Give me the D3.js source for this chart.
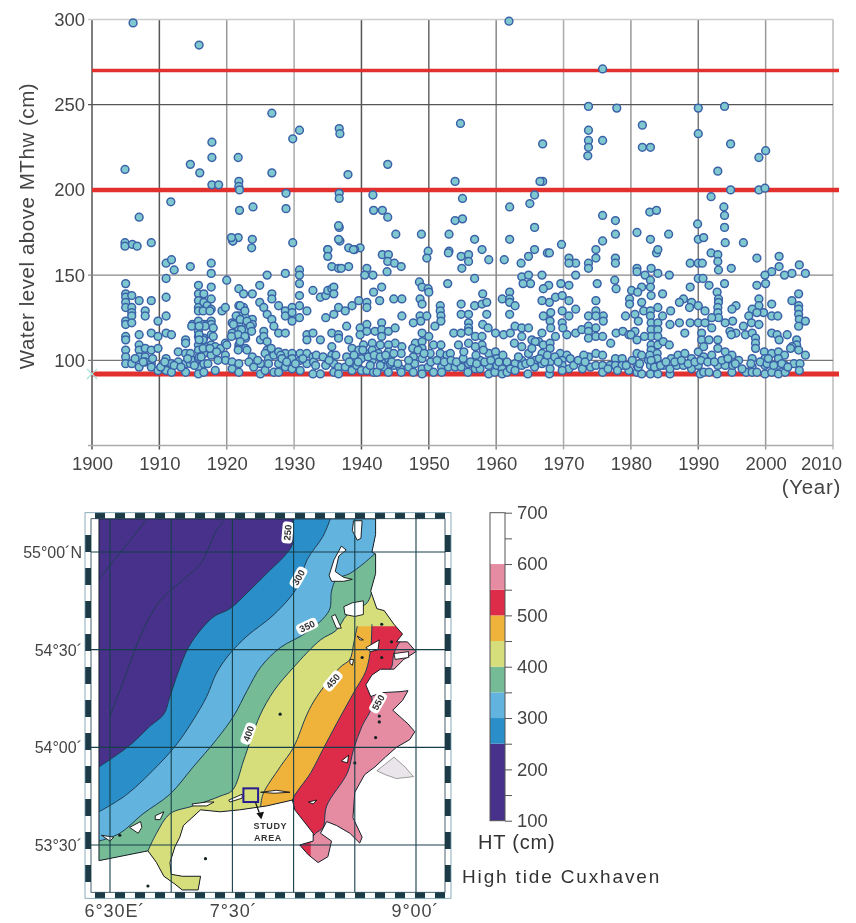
<!DOCTYPE html>
<html>
<head>
<meta charset="utf-8">
<style>
  html, body { margin: 0; background: #fff; }
  svg { display: block; font-family: "Liberation Sans", Arial, sans-serif; filter: blur(0.45px); }
</style>
<script src="https://cdn.jsdelivr.net/npm/d3@7"></script>
</head>
<body>
<div id="chart"></div>
<script>
// storm surge crests: [year, cm above MThw]
const crests1904to1937 = [
  [1906.1,298],[1915.9,285],[1904.9,212],[1917.8,228],[1917.8,219],[1914.6,215],[1916,210],[1917.8,203],[1918.8,203],
  [1921.7,219],[1921.8,205],[1921.8,202],[1921.9,200],[1921.9,188],[1923.9,190],[1926.7,245],[1926.7,210],[1928.8,198],
  [1928.8,189],[1929.8,230],[1930.8,235],[1936.7,236],[1936.8,233],[1936.7,198],[1936.7,195],[1907,184],[1911.7,193],
  [1904.9,169],[1904.9,167],[1906,168],[1906.7,167],[1908.8,169],[1920.9,170],[1921.7,172],[1923.8,171],[1923.7,166],
  [1929.8,169],[1936.7,178],[1936.8,170],[1935,165],
  [1905,145],[1905,139],[1905,137],[1905,134],[1905,131],[1905,123],[1905,121],[1905,114],[1905,112],[1905,106],[1905,102],[1905,98],
  [1905.9,138],[1905.9,131],[1905.9,128],[1905.9,126],[1905.9,122],[1905.9,98],
  [1907,135],[1907,115],[1907,109],[1907,106],[1907,102],[1907,96],
  [1907.9,129],[1907.9,126],[1907.9,107],[1907.9,102],[1907.9,99],
  [1908.8,135],[1908.8,116],[1908.8,106],[1908.8,98],[1908.8,96],
  [1909.8,123],[1909.8,114],[1909.8,107],[1909.8,94],
  [1911,157],[1911,148],[1911,137],[1911,126],[1911,116],[1911,101],[1911,98],[1911,94],
  [1911.8,159],[1911.8,115],[1911.8,98],[1911.8,93],[1912.2,153],[1912.8,105],[1912.8,99],
  [1913.9,112],[1913.9,110],[1913.9,104],[1913.9,98],[1913.9,93],[1914.6,155],[1914.6,104],[1914.6,98],[1914.9,121],[1914.9,100],
  [1915.8,144],[1915.8,139],[1915.8,135],[1915.8,131],[1915.8,129],[1915.8,123],[1915.8,117],[1915.8,114],[1915.8,109],[1915.8,106],[1915.8,101],[1915.8,96],[1915.8,92],
  [1916.6,139],[1916.6,134],[1916.6,121],[1916.6,113],[1916.6,104],[1916.6,98],[1916.6,93],
  [1917.1,132],[1917.1,121],[1917.1,108],
  [1917.7,157],[1917.7,151],[1917.7,143],[1917.7,136],[1917.7,130],[1917.7,123],[1917.7,121],[1917.7,115],[1917.7,109],[1917.7,103],
  [1918.3,108],[1918.3,94],[1919.1,107],[1919.3,129],[1919.8,131],[1919.8,110],[1919.8,103],[1919.8,100],[1920,147],
  [1920.8,122],[1920.8,116],[1920.8,99],[1920.8,95],
  [1921.8,142],[1921.8,132],[1921.8,126],[1921.8,121],[1921.8,118],[1921.8,114],[1921.8,109],[1921.8,107],[1921.8,98],[1921.8,93],
  [1920.9,170],[1920.7,172],[1922.5,139],[1922.5,131],[1922.8,125],[1922.8,118],[1922.8,113],[1922.8,107],
  [1923.8,139],[1923.8,124],[1923.8,121],[1923.8,102],[1924.9,144],[1924.9,134],[1925,112],[1925,98],[1925,92],
  [1925.5,131],[1925.5,117],[1925.5,114],[1926,150],[1926,127],[1926,111],[1926,106],[1925.7,104],[1925.7,94],
  [1926.7,139],[1926.7,136],[1926.7,124],[1927,120],[1926.2,101],[1926.2,98],[1927,103],[1927,93],
  [1927.7,132],[1927.7,116],[1927.7,105],[1927.7,98],[1927.7,93],
  [1928.7,151],[1928.7,129],[1928.7,126],[1928.7,116],[1928.7,104],[1928.7,96],
  [1929.7,131],[1929.7,128],[1929.7,123],[1929.7,104],[1929.7,101],[1929.7,95],
  [1930.8,153],[1930.8,150],[1930.8,145],[1930.8,138],[1930.8,132],[1930.8,125],
  [1930.9,104],[1930.9,100],[1930.9,94],[1931.9,129],[1931.9,115],[1931.9,112],[1931.9,104],[1931.9,98],
  [1932.8,141],[1932.8,116],[1932.8,102],[1932.8,92],[1932.9,99],[1933.9,137],[1933.9,112],[1933.9,92],
  [1934.7,138],[1934.7,125],[1934.7,97],[1935,165],[1935,161],[1935,141],
  [1935.6,155],[1935.6,142],[1935.6,116],[1935.6,108],[1935.6,103],[1935.9,143],[1935.9,139],[1935.9,127],[1935.9,98],[1935.9,93],
  [1936.6,179],[1936.6,171],[1936.6,154],[1936.6,131],[1936.6,115],[1936.6,113],[1936.6,96],[1936.6,92],
  [1922,132],[1922.7,129],[1921.4,126],[1921,121],[1922,124],[1923,123],[1923.5,120],[1922.2,118],[1921.7,115],[1922.7,114],[1923.7,117],
  [1922,111],[1921.7,106],[1923,106],[1920.7,114],[1920,109],[1916.5,129],[1917.5,129],[1916.8,120],[1918,119],[1916.5,112],[1918,114],
  [1916.5,107],[1917.5,107],[1918.5,105],[1915.9,102],[1914.8,120],[1915.9,120],[1915.9,115],[1915.9,112]
];

const crests1937to1974 = [
  [1938,209],[1943.9,215],[1941.7,197],[1941.8,188],[1943.1,188],[1943.9,184],[1945.1,174],[1948.9,174],[1938.1,166],[1939.8,166],[1939,165],
  [1954.7,239],[1966.9,227],[1961.9,299],[1973.7,249],[1953.9,205],[1955,195],[1953.9,182],[1955,183],[1953,174],[1956.8,171],
  [1957.9,165],[1953,164],[1962,190],[1962,171],[1965,192],[1965.7,197],[1965.7,178],[1966.9,205],[1966.5,205],[1969.7,168],
  [1965.7,165],[1967.6,163],
  [1938.8,165],[1949.9,164],[1949.7,160],[1952.9,163],[1954.8,161],[1955.9,162],[1955.9,158],[1954.9,154],[1958.9,159],[1961.2,159],
  [1963.7,157],[1964.8,161],[1967.9,163],[1970.8,160],[1971.8,157],[1970.8,157],[1973.7,157],[1973.7,154],[1943.1,162],[1944,162],
  [1943.9,158],[1944.9,157],[1945.9,155],[1940.8,154],[1940.5,150],[1941.7,150],[1943.8,152],[1938.1,155],[1937,154],
  [1948.6,146],[1949,143],[1949.9,142],[1950,140],[1952.8,145],[1956.8,148],[1943,143],[1941.8,140],[1942.7,135],[1944.8,136],[1946,136],
  [1939.6,135],[1940.8,134],[1940.8,131],[1938.6,132],[1937.6,129],[1946,126],[1948.7,136],[1949,133],[1951.7,132],[1951.7,129],
  [1951.8,126],[1951.8,123],[1950.9,120],[1948.7,126],[1949.7,126],[1948.8,123],[1947.7,122],[1954.8,133],[1954.8,127],[1955.9,127],
  [1955.9,122],[1955.9,119],[1956.8,132],[1957.9,133],[1958,139],[1958.6,134],[1958.6,127],[1958,121],[1958.8,119],[1959.9,116],
  [1960.9,136],[1962,140],[1962,136],[1962,134],[1962.8,132],[1962,127],[1963.8,149],[1964.8,150],[1964,145],[1965.1,145],
  [1966.8,150],[1967.8,144],[1967,142],[1969.6,145],[1970.8,144],[1971.8,150],[1971.8,130],[1970.8,135],[1968.8,137],[1969.8,138],
  [1967.9,134],[1966.8,135],[1967,126],[1968.1,128],[1968,123],[1968.1,119],[1969.8,129],[1970.8,126],[1969.8,122],[1969.9,119],
  [1968.8,114],[1970.5,115],[1971.8,116],[1972.7,118],[1973.7,126],[1973.7,120],[1973.7,117],[1973.7,113],
  [1937.8,120],[1938.1,112],[1939.8,119],[1939.8,115],[1940.8,121],[1940.8,117],[1942,117],[1943,122],[1943,118],[1943,114],[1944,117],[1945,119],
  [1953.7,116],[1954.8,116],[1955.9,117],[1956.9,114],[1957.9,114],[1957.9,109],[1954.4,109],[1955.9,110],[1956.9,108],
  [1961.1,115],[1962.1,116],[1962.8,120],[1963.8,119],[1963.8,114],[1964.8,119],[1962.7,110],[1963.8,108],[1965.3,112],[1966.3,111],
  [1966.8,116],[1967,109],[1968,110],[1968,107],[1940.3,109],[1941.6,110],[1942.8,109],[1945,110],[1946,108],[1945.9,104],[1944,109],[1944,105],
  [1948,110],[1949,116],[1949,111],[1949,107],[1950,114],[1950.7,109],[1951.8,109],[1950.2,104],[1951.7,104],[1952.7,103],[1947.7,102],[1949,101],
  [1938.6,107],[1939.6,106],[1940.6,104],[1941.6,106],[1942.5,104],[1939.1,100],[1937.8,102],[1940,101],[1941.6,100],[1943,100],[1944,101],
  [1958.9,104],[1959.9,105],[1960.1,101],[1957.6,100],[1958.1,106],[1961.6,99],[1962.8,98],[1963.8,100],[1964.8,104],[1965.8,100],[1966.8,104],
  [1968,99],[1969.5,104],[1970.5,103],[1969.8,100],[1972.7,99],[1973.7,102],[1965.8,111],[1965.3,107],
  [1937.6,96],[1938.6,94],[1939.3,97],[1940,94],[1940.8,94],[1941.8,93],[1942.3,93],[1943.3,96],[1944,93],[1944.8,97],[1945.8,95],[1945.9,93],
  [1947,96],[1947.7,93],[1947.9,98],[1949,95],[1949,92],[1949.9,96],[1950.7,93],[1951.9,96],[1951.9,93],[1952.9,96],[1953.9,96],[1954.8,96],
  [1955.9,98],[1955.8,93],[1956.9,95],[1957.6,95],[1958.9,92],[1958.9,97],[1959.8,93],[1960.1,97],[1960.9,95],[1960.9,92],[1961.6,93],[1962.1,95],
  [1962.8,94],[1964.7,92],[1963.8,97],[1965.7,96],[1966.8,98],[1967.9,92],[1968,95],[1969.8,97],[1970.8,95],[1972.8,95],[1974,96],[1969.8,94]
];

const crests1974to2006 = [
  [1977.9,248],[1973.7,235],[1973.7,229],[1973.7,225],[1973.6,220],[1975.8,229],[1975.8,271],[1981.7,238],[1981.7,225],[1982.9,225],
  [1990,248],[1993.9,249],[1990,233],[1994.8,227],[1999,219],[2000,223],[1992.9,211],[1994.8,200],[1999,200],[1999.9,201],[1991.9,196],
  [1993.8,190],[1993.9,185],[1993.9,178],[1989.9,180],[1990,171],[1990.8,172],[1994,169],[1996.7,169],[1975.8,185],[1977.7,182],[1977.7,174],
  [1975.8,170],[1974.8,165],[1980.9,175],[1982.8,187],[1983.8,188],[1982.9,171],[1985.6,174],[1983.8,163],
  [1974.8,160],[1977.7,160],[1977.7,157],[1984,165],[1991.9,163],[1992.9,162],[1992.9,158],[1993,153],[1994.9,154],[1998.7,160],[2002,161],
  [2002,155],[2000.9,152],[1999.9,150],[2005,156],[2005.9,151],[2003.9,151],[2002.8,150],[1980.9,154],[1980.9,152],[1983,154],[1984,151],
  [1982.1,150],[1985.7,150],[1988.8,157],[1990,157],[1990.6,157],[1990,148],[1990.7,148],[1991.6,144],[1993.9,145],[1992.8,140],[1993,136],
  [1993,134],[1992.9,131],[1992.9,128],[1993,125],[1995.6,132],[1995,130],[1995.1,123],[1994,122],[1982.9,147],[1982.9,143],[1981.6,143],
  [1980.1,141],[1981,140],[1983,138],[1979.8,136],[1979.8,133],[1984.7,139],[1988.8,143],[1987.8,136],[1987.2,134],[1981.6,134],[1984,131],
  [1985.9,129],[1989,134],[1988.7,131],[1990,132],[1991,129],[1998.7,144],[2000,145],[1999,136],[1999,132],[1998,130],[2000.9,133],[2003.9,135],
  [2004.9,139],[2004.9,132],[2004.9,130],[2004.9,127],[2005,124],[2005.9,123],[2004.9,120],[1999.7,128],[1998.7,128],[2000.9,126],[2001.8,126],
  [1997.5,126],[1997.9,122],[1999,121],[1996.7,120],[1975,145],[1977.6,147],[1977.8,142],[1974.8,135],[1974.8,129],[1975.9,126],[1974.8,126],
  [1975.9,123],[1974.8,119],[1974.8,114],[1979.2,126],[1980.6,127],[1981.1,123],[1977.8,116],[1978.8,117],[1975.8,114],[1977,110],[1979.7,115],
  [1980.6,117],[1980,115],[1981.9,129],[1982.9,129],[1982.9,126],[1984.7,126],[1985.8,121],[1987.2,122],[1988.8,122],[1988,116],[1990,122],
  [1991,122],[1992,125],[1992,119],[1990.5,116],[1990.5,112],[1991.6,112],[1992.9,112],[1992.9,107],[1995.6,116],[1994.7,117],[1994.9,115],
  [1997,115],[1998,116],[1998.5,113],[1998.5,110],[1998.5,107],[2000.9,116],[2001.7,115],[2003.2,115],[2002,112],[2004.6,112],[2004.6,109],
  [2003.9,108],[2004.9,106],[2003.7,107],[2005.9,103],[1983,122],[1983,118],[1983,114],[1983,109],[1984,122],[1984,118],[1984,114],[1984,109],
  [1982,114],[1980.9,112],[1984.8,111],[1985.7,109],[1983,106],[1983.9,104],[1974.8,104],[1975.8,103],[1977.7,101],[1978.7,101],[1980.9,104],
  [1981.6,103],[1982.6,100],[1983.9,101],[1986,101],[1987,103],[1988,104],[1989,101],[1990,105],[1990.8,108],[1990.8,102],[1992,103],[1994,105],
  [1995,103],[1996,100],[1998,101],[1999.8,105],[2000.9,104],[2001.9,105],[2002.8,103],[2001.9,101],[1999.9,101],[2004.2,98],[2005.1,98],
  [1974.8,97],[1975.8,97],[1975.8,93],[1976.9,97],[1977.7,97],[1978.7,97],[1979.7,94],[1980.9,97],[1980.9,93],[1981.6,92],[1982.9,92],[1982.9,97],
  [1984,92],[1984.8,97],[1985.8,92],[1985.8,95],[1986.8,97],[1987.8,97],[1989,95],[1990,97],[1990.3,92],[1990.8,93],[1991.6,93],[1992.8,92],
  [1992.9,97],[1994,97],[1995,93],[1995.1,97],[1997.1,93],[1998,96],[1998,93],[1998.7,93],[1999.9,97],[1999.9,92],[2000.9,93],[2001.9,92],
  [2001.9,97],[2002.9,93],[2002.9,97],[2005,94]
];

// the crowded band just above the lower threshold
const crestsLowBand = [
  [1906.4,101],[1907.6,99],[1909,101],[1910.2,96],[1910.8,99],[1912.2,97],[1913.2,96],[1914.2,101],[1915.2,97],[1916.2,102],[1917.2,98],[1918.7,100],
  [1923.3,99],[1924,96],[1924.6,100],[1926.6,107],[1928,103],[1928.2,101],[1928.9,99],[1930.2,98],[1931.3,101],[1933.2,97],[1933.3,103],[1934.3,102],
  [1935.2,100],[1936.2,103],[1938.2,99],[1938.9,103],[1939.5,99],[1940.2,106],[1941,102],[1941.3,97],[1941.9,103],[1942.8,102],[1942.8,97],[1943.6,103],
  [1944.3,98],[1944.5,99],[1944.8,104],[1945.4,98],[1947,100],[1947.6,107],[1948.4,106],[1949.3,104],[1950.3,99],[1951.2,100],[1952.3,99],[1953.2,104],
  [1953.3,100],[1954.1,99],[1955.1,101],[1955.2,105],[1956.2,99],[1957,103],[1957.1,98],[1958.3,99],[1959.2,100],[1960.4,99],[1961,103],[1963.3,102],
  [1964.4,98],[1965.1,99],[1966.4,101],[1967.2,99],[1967.6,103],[1968.7,102],[1969.2,99],[1971,101],[1971.5,97],[1972.2,100],[1973,103],[1973.2,99],
  [1976.6,95],[1978,94],[1979.3,97],[1980.2,100],[1981.1,96],[1981.3,98],[1982.8,103],[1983,100],[1983.5,96],[1984.4,97],[1985.2,99],[1986.5,99],
  [1987.5,100],[1988.5,98],[1989.5,99],[1990.4,100],[1991.4,99],[1992.4,99],[1993.5,100],[1994.4,101],[1995.5,98],[1996.5,95],[1997.8,98],[1999.2,99],
  [2000.2,98],[2000.4,101],[2001.2,97],[2002.4,98],[2003.3,96]
];

const levelTicks = [50, 100, 150, 200, 250, 300];
const yearTicks = d3.range(1900, 2011, 10);
const thresholdLevels = [92, 200, 270];
const thresholdWeights = [5, 4.5, 3.5];

// how dark each gridline prints in the figure
const yearGridShade = { 1900: "#555", 1910: "#555", 1920: "#999", 1930: "#aaa", 1940: "#555", 1950: "#666", 1960: "#888", 1970: "#aaa", 1980: "#999", 1990: "#777", 2000: "#999", 2010: "#bbb" };
const levelGridShade = { 50: "#aaa", 100: "#777", 150: "#888", 250: "#555", 300: "#ccc" };

// co-tidal chart, all lon/lat in degrees
const lonGrid = [6.5, 7, 7.5, 8, 8.5, 9];
const latGrid = [53.5, 54, 54.5, 55];
const lonLabels = [[6.54, "6°30E´"], [7.51, "7°30´"], [8.995, "9°00´"]];
const latLabels = [[55, "55°00´N"], [54.5, "54°30´"], [54, "54°00´"], [53.5, "53°30´"]];

const seaOutline = [
  [6.41,55.17],[8.67,55.17],[8.67,55.09],[8.64,55.0],[8.67,54.99],[8.67,54.89],[8.63,54.8],[8.68,54.71],[8.74,54.7],[8.82,54.63],[8.89,54.58],
  [8.84,54.54],[8.93,54.54],[9.0,54.49],[8.9,54.45],[8.82,54.4],[8.71,54.4],[8.64,54.37],[8.59,54.32],[8.63,54.26],[8.72,54.28],[8.87,54.285],
  [8.935,54.29],[8.89,54.24],[8.81,54.19],[8.935,54.12],[8.99,54.08],[8.95,54.04],[8.84,54],[8.75,53.95],[8.665,53.9],[8.58,53.86],[8.5,53.77],
  [8.485,53.64],[8.56,53.54],[8.54,53.51],[8.46,53.56],[8.35,53.6],[8.27,53.62],[8.22,53.56],[8.31,53.52],[8.28,53.44],[8.2,53.41],[8.12,53.45],
  [8.05,53.5],[8.16,53.52],[8.16,53.56],[8.01,53.68],[7.99,53.73],[7.78,53.7],[7.56,53.68],[7.4,53.67],[7.24,53.68],[7.1,53.6],
  [7.07,53.54],[7.03,53.49],[6.99,53.41],[7,53.35],[7.09,53.34],[7.24,53.34],[7.22,53.27],[7.09,53.27],[7.03,53.3],[6.94,53.34],[6.88,53.41],
  [6.81,53.47],[6.41,53.42]
];

const contour250 = [[7.99,55.17],[7.99,55.04],[7.94,54.99],[7.78,54.89],[7.62,54.79],[7.48,54.71],[7.35,54.67],[7.24,54.6],[7.14,54.51],[7.06,54.39],[6.99,54.26],[6.94,54.17],[6.83,54.11],[6.68,54.02],[6.53,53.95],[6.41,53.9]];
const contour300 = [[8.3,55.17],[8.24,55.08],[8.11,54.96],[8.03,54.82],[7.84,54.68],[7.62,54.57],[7.48,54.48],[7.37,54.38],[7.29,54.26],[7.18,54.14],[7.05,54.02],[6.91,53.92],[6.64,53.76],[6.41,53.67]];
const contour350 = [[8.68,55],[8.55,54.93],[8.46,54.89],[8.35,54.86],[8.31,54.8],[8.29,54.7],[8.11,54.59],[7.89,54.51],[7.73,54.41],[7.62,54.29],[7.51,54.16],[7.37,54.04],[7.18,53.9],[6.99,53.76],[6.77,53.66],[6.58,53.56],[6.41,53.52]];
const contour400 = [[8.64,54.8],[8.6,54.74],[8.44,54.68],[8.35,54.6],[8.22,54.55],[8,54.41],[7.84,54.29],[7.73,54.17],[7.65,54.04],[7.59,53.93],[7.5,53.78],[7.4,53.75],[7.18,53.7],[6.99,53.66],[6.88,53.56],[6.81,53.47]];
const contour450 = [[8.52,54.62],[8.49,54.53],[8.46,54.45],[8.38,54.41],[8.19,54.26],[8.11,54.17],[8,54],[7.89,53.9],[7.75,53.76],[7.73,53.69]];
const contour500 = [[8.64,54.63],[8.63,54.51],[8.59,54.39],[8.5,54.29],[8.35,54.12],[8.24,53.99],[8.14,53.87],[7.99,53.73],[7.99,53.68]];
const contour550 = [[9,54.6],[8.87,54.54],[8.82,54.48],[8.79,54.4],[8.63,54.36],[8.64,54.21],[8.56,54.11],[8.49,53.99],[8.44,53.87],[8.27,53.7],[8.24,53.59],[8.18,53.56],[8.14,53.53]];
const deepContourA = [[6.42,54.87],[6.64,55.04],[6.79,55.16]];
const deepContourB = [[6.5,54.16],[6.61,54.34],[6.77,54.6],[6.91,54.75],[7.1,54.86],[7.24,54.94],[7.37,55.11],[7.43,55.16]];
const tidalFlat = [[8.68,53.88],[8.82,53.95],[8.91,53.9],[8.98,53.85],[8.84,53.84],[8.75,53.86]];

const islands = [
  [[8.49,55.16],[8.56,55.16],[8.55,55.07],[8.52,55.06],[8.48,55.11]],
  [[8.39,55.03],[8.43,55.01],[8.37,54.98],[8.34,54.9],[8.41,54.87],[8.48,54.86],[8.41,54.85],[8.31,54.85],[8.29,54.88],[8.33,54.96]],
  [[8.41,54.72],[8.48,54.74],[8.57,54.75],[8.57,54.68],[8.5,54.67],[8.42,54.68]],
  [[8.31,54.67],[8.34,54.68],[8.39,54.61],[8.35,54.61]],
  [[8.52,54.57],[8.57,54.55],[8.54,54.55]],
  [[8.59,54.51],[8.7,54.55],[8.69,54.5],[8.63,54.49]],
  [[8.82,54.48],[8.94,54.49],[8.94,54.46],[8.83,54.45]],
  [[8.46,54.45],[8.49,54.45],[8.48,54.42],[8.46,54.43]],
  [[7.17,53.71],[7.29,53.72],[7.35,53.72],[7.29,53.7],[7.18,53.7]],
  [[7.47,53.73],[7.58,53.76],[7.58,53.74],[7.48,53.72]],
  [[7.73,53.77],[7.86,53.78],[7.97,53.77],[7.84,53.765]],
  [[6.66,53.59],[6.75,53.62],[6.76,53.59],[6.73,53.56]],
  [[6.87,53.65],[6.94,53.67],[6.91,53.63],[6.87,53.63]],
  [[6.43,53.55],[6.53,53.54],[6.5,53.52]],
  [[8.12,53.72],[8.19,53.73],[8.16,53.71]],
  [[8.39,53.93],[8.45,53.96],[8.44,53.92]]
];
const shoals = [[7.89,54.17],[8.7,54.16],[8.7,54.13],[8.67,54.05],[8.72,54.63],[8.8,54.54],[8.72,54.46],[8.56,54.46],[8.5,53.92],[7.28,53.43],[6.81,53.29],[6.58,53.55]];
const contourLabels = [["250",7.95,55.1,-85],["300",8.04,54.87,-60],["350",8.11,54.62,-25],["400",7.63,54.07,-70],["450",8.32,54.34,-50],["550",8.69,54.23,-60]];
const studyArea = [[7.59,53.79],[7.71,53.72]];

// colour key: band edges in cm, low to high
const bandEdges = [100, 250, 300, 350, 400, 450, 500, 550, 600, 700];
const bandColors = ["#47318a", "#2a8fc9", "#62b3de", "#74bb96", "#d5de7a", "#efb33c", "#dd2c4a", "#e68ca2", "#ffffff"];
const keyTicks = d3.range(100, 701, 50);
const keyLabels = [100, 200, 300, 400, 500, 600, 700];

const width = 856, height = 923;
const inkColor = "#444";

const svg = d3.select("#chart").append("svg").attr("width", width).attr("height", height);

// ---------- top panel ----------
const xYear = d3.scaleLinear().domain([1900, 2010]).range([92, 833]);
const yLevel = d3.scaleLinear().domain([50, 300]).range([445.5, 19.5]);
const plot = svg.append("g");

plot.append("g").selectAll("line").data(yearTicks).join("line")
  .attr("x1", (d) => xYear(d)).attr("x2", (d) => xYear(d))
  .attr("y1", yLevel(300)).attr("y2", yLevel(50) + 4)
  .attr("stroke", (d) => yearGridShade[d]).attr("stroke-width", 1.5);

plot.append("g").selectAll("line").data(levelTicks.filter((d) => d !== 200)).join("line")
  .attr("x1", xYear(1900) - 4).attr("x2", xYear(2010))
  .attr("y1", (d) => yLevel(d)).attr("y2", (d) => yLevel(d))
  .attr("stroke", (d) => levelGridShade[d]).attr("stroke-width", 1.3);

plot.append("g").selectAll("line").data(thresholdLevels).join("line")
  .attr("x1", xYear(1900)).attr("x2", 839)
  .attr("y1", (d) => yLevel(d)).attr("y2", (d) => yLevel(d))
  .attr("stroke", "#e2302f")
  .attr("stroke-width", (d, i) => thresholdWeights[i]);

const allCrests = [...crests1904to1937, ...crests1937to1974, ...crests1974to2006, ...crestsLowBand];
plot.append("g").selectAll("circle").data(allCrests).join("circle")
  .attr("cx", (d) => xYear(d[0])).attr("cy", (d) => yLevel(d[1]))
  .attr("r", 3.9)
  .attr("fill", "#7fc8d0").attr("stroke", "#3b62a8").attr("stroke-width", 1.5);

// stray legend marker left on the axis
plot.append("path")
  .attr("d", d3.symbol(d3.symbolX, 70)())
  .attr("transform", `translate(${xYear(1900)},${yLevel(92)})`)
  .attr("fill", "none").attr("stroke", "#a8e0d8").attr("stroke-width", 1.2);

const xAxis = d3.axisBottom(xYear).tickValues(yearTicks).tickSize(0).tickPadding(11).tickFormat(d3.format("d"));
const yAxis = d3.axisLeft(yLevel).tickValues(levelTicks.slice(1)).tickSize(0).tickPadding(7);

plot.append("g").attr("transform", `translate(0,${yLevel(50)})`).call(xAxis)
  .call((g) => g.select(".domain").remove())
  .selectAll("text")
  .attr("x", (d) => (d === 2010 ? -12 : 0))
  .style("font-size", "18.5px").style("fill", inkColor);
plot.append("g").attr("transform", `translate(${xYear(1900)},0)`).call(yAxis)
  .call((g) => g.select(".domain").remove())
  .selectAll("text").style("font-size", "18.5px").style("fill", inkColor);

plot.append("text")
  .attr("transform", "translate(34,226) rotate(-90)")
  .attr("text-anchor", "middle")
  .style("font-size", "20.5px").style("letter-spacing", "0.55px").style("fill", inkColor)
  .text("Water level above MThw (cm)");

plot.append("text")
  .attr("x", 841).attr("y", 494)
  .attr("text-anchor", "end")
  .style("font-size", "20.5px").style("letter-spacing", "0.7px").style("fill", inkColor)
  .text("(Year)");

// ---------- map ----------
const xLon = d3.scaleLinear().domain([6.5, 9]).range([110, 416]);
const yLat = d3.scaleLinear().domain([55, 53.5]).range([552, 845]);
const project = (d) => [xLon(d[0]), yLat(d[1])];
const polyLine = d3.line().x((d) => xLon(d[0])).y((d) => yLat(d[1]));
const smoothLine = d3.line().x((d) => xLon(d[0])).y((d) => yLat(d[1])).curve(d3.curveCatmullRom.alpha(0.5));

svg.append("defs").append("clipPath").attr("id", "sea-clip")
  .append("path").attr("d", polyLine(seaOutline) + "Z");

const map = svg.append("g");
const sea = map.append("g").attr("clip-path", "url(#sea-clip)");

// each band paints everything seaward of its contour, pink first, deep water last
function seawardOf(contour) {
  const end = contour[contour.length - 1];
  const start = contour[0];
  return smoothLine(contour) + "L" + [[end[0], 53], [6, 53], [6, 55.5], [9.3, 55.5], [9.3, start[1]]].map(project).join("L") + "Z";
}

sea.append("rect").attr("x", 0).attr("y", 500).attr("width", 500).attr("height", 420).attr("fill", bandColors[7]);

const bandContours = [contour550, contour500, contour450, contour400, contour350, contour300, contour250];
const contourFills = [bandColors[6], bandColors[5], bandColors[4], bandColors[3], bandColors[2], bandColors[1], bandColors[0]];
sea.selectAll("path.band").data(bandContours).join("path")
  .attr("class", "band")
  .attr("d", (d) => seawardOf(d))
  .attr("fill", (d, i) => contourFills[i]);

sea.selectAll("path.contour").data([...bandContours, deepContourA, deepContourB]).join("path")
  .attr("class", "contour")
  .attr("d", (d) => smoothLine(d))
  .attr("fill", "none").attr("stroke", "#1f3d55").attr("stroke-width", 1);

map.append("path").attr("d", polyLine(seaOutline) + "Z")
  .attr("fill", "none").attr("stroke", "#15202a").attr("stroke-width", 1);

map.append("path").attr("d", polyLine(tidalFlat) + "Z")
  .attr("fill", "#e9e5ea").attr("stroke", "#444").attr("stroke-width", 0.5);

map.append("g").selectAll("path").data(islands).join("path")
  .attr("d", (d) => polyLine(d) + "Z")
  .attr("fill", "#fff").attr("stroke", "#111").attr("stroke-width", 0.9);

map.append("g").selectAll("circle").data(shoals).join("circle")
  .attr("cx", (d) => xLon(d[0])).attr("cy", (d) => yLat(d[1]))
  .attr("r", 1.6).attr("fill", "#122");

const labelGroups = map.append("g").selectAll("g").data(contourLabels).join("g")
  .attr("transform", (d) => `translate(${xLon(d[1])},${yLat(d[2])}) rotate(${d[3]})`);
labelGroups.append("rect").attr("x", -11).attr("y", -5.5).attr("width", 22).attr("height", 11).attr("rx", 4).attr("fill", "#fff");
labelGroups.append("text").attr("text-anchor", "middle").attr("y", 3.5)
  .style("font-size", "9.5px").style("font-weight", "bold").style("fill", "#333").text((d) => d[0]);

map.append("g").selectAll("line.lon").data(lonGrid).join("line").attr("class", "lon")
  .attr("x1", (d) => xLon(d)).attr("x2", (d) => xLon(d)).attr("y1", 513).attr("y2", 898)
  .attr("stroke", "#173f4a").attr("stroke-width", 1.1);
map.append("g").selectAll("line.lat").data(latGrid).join("line").attr("class", "lat")
  .attr("x1", 85).attr("x2", 451).attr("y1", (d) => yLat(d)).attr("y2", (d) => yLat(d))
  .attr("stroke", "#173f4a").attr("stroke-width", 1.1);

// study area
map.append("rect")
  .attr("x", xLon(studyArea[0][0])).attr("y", yLat(studyArea[0][1]))
  .attr("width", xLon(studyArea[1][0]) - xLon(studyArea[0][0]))
  .attr("height", yLat(studyArea[1][1]) - yLat(studyArea[0][1]))
  .attr("fill", "none").attr("stroke", "#281b8f").attr("stroke-width", 2);
map.append("path")
  .attr("d", d3.line()([[xLon(7.69), yLat(53.715)], [xLon(7.72), yLat(53.665)]]))
  .attr("stroke", "#111").attr("stroke-width", 1.2);
map.append("path")
  .attr("d", d3.symbol(d3.symbolTriangle, 26)())
  .attr("transform", `translate(${xLon(7.73)},${yLat(53.655)}) rotate(170)`)
  .attr("fill", "#111");
map.append("text").attr("x", xLon(7.81)).attr("y", yLat(53.58)).attr("text-anchor", "middle")
  .style("font-size", "9px").style("font-weight", "bold").style("letter-spacing", "0.6px").style("fill", "#333").text("STUDY");
map.append("text").attr("x", xLon(7.79)).attr("y", yLat(53.52)).attr("text-anchor", "middle")
  .style("font-size", "9px").style("font-weight", "bold").style("letter-spacing", "0.6px").style("fill", "#333").text("AREA");

// checkered neatline
const frame = { x0: 85, x1: 451, y0: 512.7, y1: 898.3, bar: 6 };
const frameInk = "#1d3b47";
const neat = map.append("g");
neat.append("rect").attr("x", frame.x0).attr("y", frame.y0).attr("width", frame.x1 - frame.x0).attr("height", frame.bar).attr("fill", "#fff");
neat.append("rect").attr("x", frame.x0).attr("y", frame.y1 - frame.bar).attr("width", frame.x1 - frame.x0).attr("height", frame.bar).attr("fill", "#fff");
neat.append("rect").attr("x", frame.x0).attr("y", frame.y0).attr("width", frame.bar).attr("height", frame.y1 - frame.y0).attr("fill", "#fff");
neat.append("rect").attr("x", frame.x1 - frame.bar).attr("y", frame.y0).attr("width", frame.bar).attr("height", frame.y1 - frame.y0).attr("fill", "#fff");

const acrossStarts = d3.range(frame.x0 + 10, frame.x1 - 2, 20);
const downStarts = d3.range(535, frame.y1 - frame.bar - 3, 33);
[frame.y0, frame.y1 - frame.bar].forEach((y) => {
  neat.append("g").selectAll("rect").data(acrossStarts).join("rect")
    .attr("x", (d) => d).attr("y", y).attr("width", (d) => Math.min(10, frame.x1 - d)).attr("height", frame.bar).attr("fill", frameInk);
});
[frame.x0, frame.x1 - frame.bar].forEach((x) => {
  neat.append("g").selectAll("rect").data(downStarts).join("rect")
    .attr("x", x).attr("y", (d) => d).attr("width", frame.bar).attr("height", 17).attr("fill", frameInk);
});
neat.append("rect").attr("x", frame.x0).attr("y", frame.y0).attr("width", frame.x1 - frame.x0).attr("height", frame.y1 - frame.y0)
  .attr("fill", "none").attr("stroke", "#6d9aa8").attr("stroke-width", 0.8);
neat.append("rect").attr("x", frame.x0 + frame.bar).attr("y", frame.y0 + frame.bar)
  .attr("width", frame.x1 - frame.x0 - 2 * frame.bar).attr("height", frame.y1 - frame.y0 - 2 * frame.bar)
  .attr("fill", "none").attr("stroke", frameInk).attr("stroke-width", 0.8);

map.append("g").selectAll("text").data(latLabels).join("text")
  .attr("x", 82).attr("y", (d) => yLat(d[0]) + 6).attr("text-anchor", "end")
  .style("font-size", "16px").style("fill", inkColor).text((d) => d[1]);
map.append("g").selectAll("text").data(lonLabels).join("text")
  .attr("x", (d) => xLon(d[0])).attr("y", 917).attr("text-anchor", "middle")
  .style("font-size", "18px").style("letter-spacing", "0.9px").style("fill", inkColor).text((d) => d[1]);

// ---------- colour key ----------
const yKey = d3.scaleLinear().domain([100, 700]).range([820.7, 512.7]);
const key = svg.append("g");
key.append("g").selectAll("rect").data(bandColors).join("rect")
  .attr("x", 490).attr("width", 15)
  .attr("y", (d, i) => yKey(bandEdges[i + 1]))
  .attr("height", (d, i) => yKey(bandEdges[i]) - yKey(bandEdges[i + 1]))
  .attr("fill", (d) => d);
key.append("rect").attr("x", 490).attr("y", yKey(700)).attr("width", 15).attr("height", yKey(100) - yKey(700))
  .attr("fill", "none").attr("stroke", "#555").attr("stroke-width", 1);

const keyAxis = d3.axisRight(yKey).tickValues(keyTicks).tickSize(7).tickPadding(5)
  .tickFormat((d) => (keyLabels.includes(d) ? d : ""));
key.append("g").attr("transform", "translate(505,0)").call(keyAxis)
  .call((g) => g.select(".domain").remove())
  .call((g) => g.selectAll("line").attr("stroke", "#555").attr("stroke-width", 1))
  .selectAll("text").style("font-size", "18.5px").style("fill", inkColor);

key.append("text").attr("x", 478).attr("y", 849)
  .style("font-size", "20px").style("letter-spacing", "0.8px").style("fill", "#333").text("HT (cm)");
key.append("text").attr("x", 462).attr("y", 883)
  .style("font-size", "19px").style("letter-spacing", "1.85px").style("fill", "#333").text("High tide Cuxhaven");
</script>
</body>
</html>
